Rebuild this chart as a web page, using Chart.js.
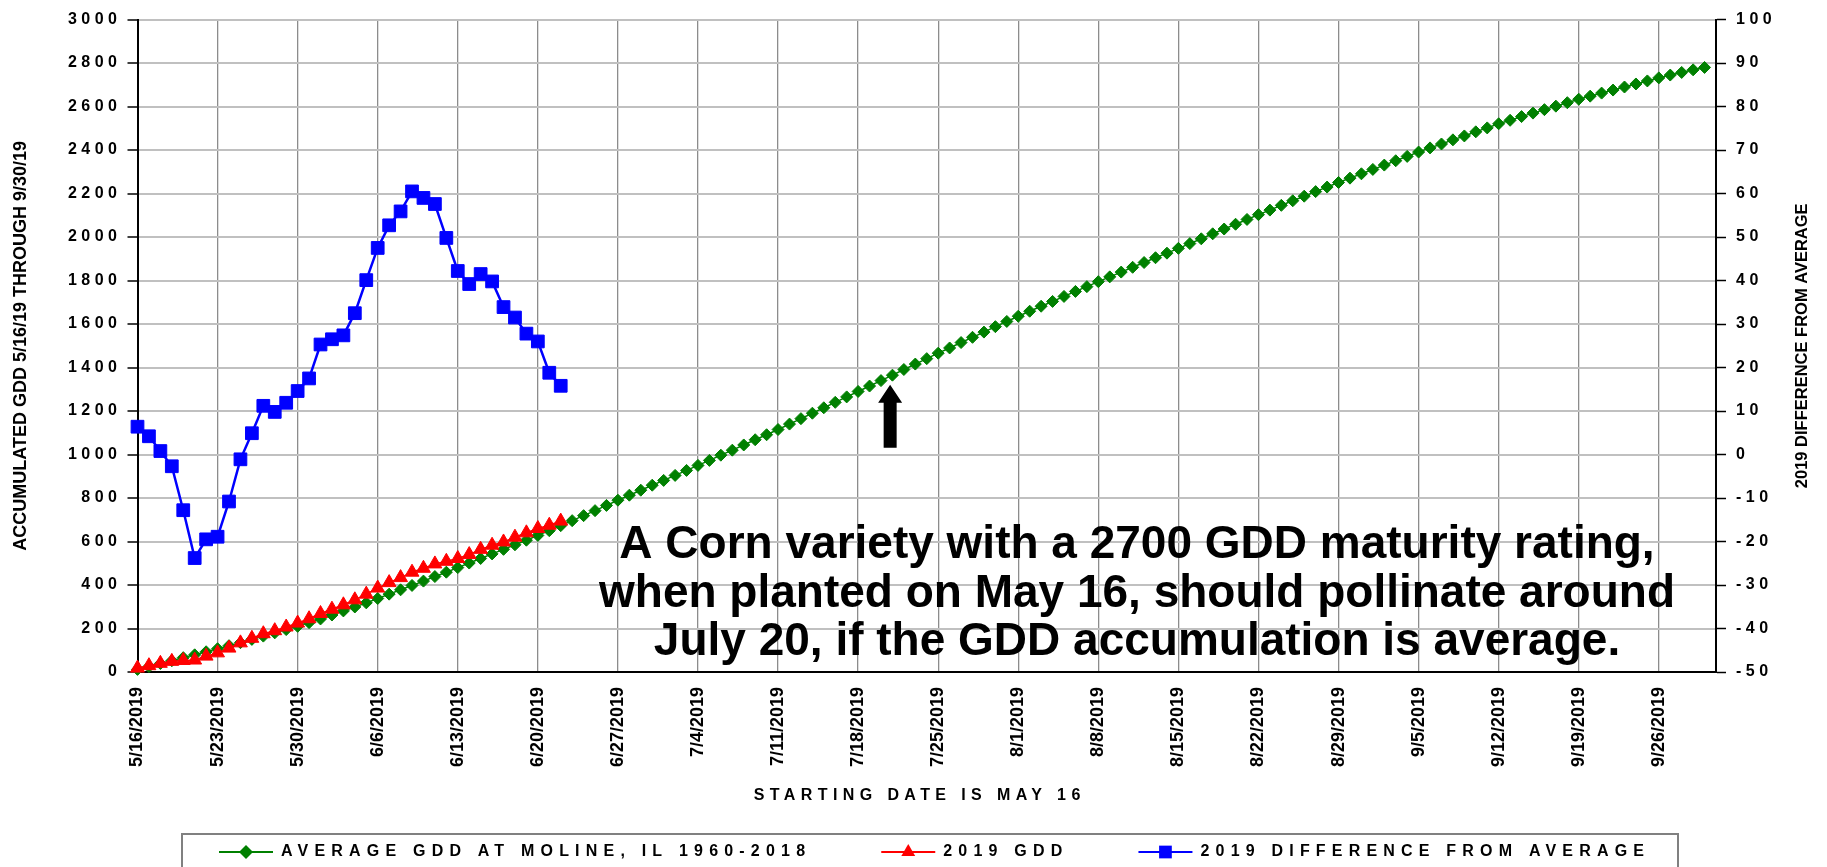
<!DOCTYPE html>
<html>
<head>
<meta charset="utf-8">
<title>GDD Moline 2019</title>
<script src="https://cdn.jsdelivr.net/npm/chart.js@4.4.1/dist/chart.umd.min.js"></script>
<style>
  html, body { margin: 0; padding: 0; background: #fff; }
  #wrap { position: relative; width: 1827px; height: 867px; }
</style>
</head>
<body>
<div id="wrap"><canvas id="gddChart"></canvas></div>
<script>
(function () {
  "use strict";

  // one label a week, day 0 = 5/16/2019
  var weekLabels = ["5/16/2019", "5/23/2019", "5/30/2019", "6/6/2019", "6/13/2019", "6/20/2019",
    "6/27/2019", "7/4/2019", "7/11/2019", "7/18/2019", "7/25/2019", "8/1/2019", "8/8/2019",
    "8/15/2019", "8/22/2019", "8/29/2019", "9/5/2019", "9/12/2019", "9/19/2019", "9/26/2019"];

  // average GDD at Moline 1960-2018, daily 5/16 .. 9/30
  var avgGdd = [
    12, 25, 39, 52, 66, 79, 93, 107,
    121, 135, 150, 165, 180, 195, 210,
    227, 244, 262, 281, 299, 318, 338,
    358, 378, 398, 418, 439, 459, 480,
    501, 522, 543, 564, 585, 606, 628,
    650, 673, 696, 719, 742, 766, 790,
    813, 836, 859, 881, 904, 927, 950,
    973, 997, 1020, 1044, 1068, 1091, 1115,
    1140, 1165, 1190, 1215, 1240, 1265, 1290,
    1315, 1340, 1365, 1391, 1416, 1441, 1466,
    1490, 1515, 1539, 1563, 1588, 1612, 1636,
    1659, 1682, 1704, 1727, 1750, 1772, 1795,
    1817, 1839, 1861, 1883, 1905, 1926, 1948,
    1970, 1992, 2015, 2037, 2059, 2081, 2103,
    2124, 2146, 2167, 2188, 2209, 2230, 2251,
    2271, 2291, 2311, 2331, 2351, 2371, 2391,
    2410, 2428, 2447, 2465, 2484, 2502, 2521,
    2537, 2554, 2570, 2586, 2602, 2618, 2634,
    2648, 2662, 2676, 2690, 2704, 2718, 2732,
    2745, 2757, 2769, 2780
  ];

  // 2019 GDD, 5/16 .. 6/22
  var gdd2019 = [
    18, 29, 40, 49, 53, 55, 73, 88, 110, 134,
    155, 176, 190, 207, 225, 245, 269, 289, 309, 332,
    358, 386, 411, 434, 459, 477, 497, 509, 522, 540,
    564, 583, 598, 620, 640, 660, 675, 694
  ];

  // 2019 difference from average (right axis), 5/16 .. 6/22
  var diff2019 = [
    6.4, 4.2, 0.8, -2.7, -12.8, -23.8, -19.5, -18.9, -10.8, -1.1,
    4.9, 11.2, 9.8, 11.9, 14.6, 17.5, 25.3, 26.5, 27.4, 32.5,
    40.1, 47.5, 52.7, 55.9, 60.5, 59.0, 57.6, 49.8, 42.2, 39.2,
    41.5, 39.8, 33.9, 31.5, 27.8, 26.0, 18.8, 15.8
  ];

  var noteLines = [
    "A Corn variety with a 2700 GDD maturity rating,",
    "when planted on May 16, should pollinate around",
    "July 20, if the GDD accumulation is average."
  ];

  // arrow under the average line, in axis units (day, left-axis GDD)
  var arrowAt = { day: 65.8, tip: 1321, base: 1031 };

  var FONT = "'Liberation Sans', Arial, sans-serif";

  Chart.defaults.font.family = FONT;
  Chart.defaults.color = "#000";

  function points(arr) {
    return arr.map(function (v, i) { return { x: i, y: v }; });
  }

  function marker(ctx, style, x, y, r) {
    ctx.beginPath();
    if (style === "rectRot") {
      ctx.moveTo(x, y - r); ctx.lineTo(x + r, y); ctx.lineTo(x, y + r); ctx.lineTo(x - r, y);
    } else if (style === "triangle") {
      ctx.moveTo(x, y - r);
      ctx.lineTo(x + r * 0.866, y + r * 0.5);
      ctx.lineTo(x - r * 0.866, y + r * 0.5);
    } else {
      var h = r * Math.SQRT1_2;
      ctx.rect(x - h, y - h, 2 * h, 2 * h);
    }
    ctx.closePath();
    ctx.fill();
  }

  var legendItems = [
    { text: "AVERAGE GDD AT MOLINE, IL 1960-2018", color: "#008000", style: "rectRot", r: 7 },
    { text: "2019 GDD", color: "#ff0000", style: "triangle", r: 8 },
    { text: "2019 DIFFERENCE FROM AVERAGE", color: "#0000ff", style: "rect", r: 9 }
  ];

  var overlay = {
    id: "overlay",
    afterLayout: function (chart) {
      // Excel-style spaced digits on both value axes
      ["y", "y2"].forEach(function (id) {
        var s = chart.scales[id];
        if (!s || s._spaced) return;
        var orig = s.drawLabels;
        s.drawLabels = function (area) {
          var c = this.ctx;
          c.save();
          c.letterSpacing = "4.5px";
          orig.call(this, area);
          c.restore();
        };
        s._spaced = true;
      });
    },
    afterDraw: function (chart) {
      var ctx = chart.ctx;
      var area = chart.chartArea;
      var xs = chart.scales.x;
      var ys = chart.scales.y;

      ctx.save();

      // arrow
      var ax = xs.getPixelForValue(arrowAt.day);
      var top = ys.getPixelForValue(arrowAt.tip);
      var bot = ys.getPixelForValue(arrowAt.base);
      ctx.fillStyle = "#000";
      ctx.beginPath();
      ctx.moveTo(ax, top);
      ctx.lineTo(ax + 12, top + 18);
      ctx.lineTo(ax + 6.5, top + 18);
      ctx.lineTo(ax + 6.5, bot);
      ctx.lineTo(ax - 6.5, bot);
      ctx.lineTo(ax - 6.5, top + 18);
      ctx.lineTo(ax - 12, top + 18);
      ctx.closePath();
      ctx.fill();

      // note
      ctx.font = "bold 46px " + FONT;
      ctx.textAlign = "center";
      ctx.textBaseline = "alphabetic";
      noteLines.forEach(function (t, i) {
        ctx.fillText(t, 1137, 558 + i * 48.5);
      });

      // right axis title, read bottom to top like the left one
      ctx.save();
      ctx.translate(1802, (area.top + area.bottom) / 2);
      ctx.rotate(-Math.PI / 2);
      ctx.font = "bold 16.5px " + FONT;
      ctx.textBaseline = "middle";
      ctx.fillText("2019 DIFFERENCE FROM AVERAGE", 0, 0);
      ctx.restore();

      // x axis title
      ctx.letterSpacing = "5.4px";
      ctx.font = "bold 16px " + FONT;
      ctx.textBaseline = "middle";
      ctx.fillText("STARTING DATE IS MAY 16", (area.left + area.right) / 2 - 7, 796);

      // legend
      ctx.letterSpacing = "0px";
      ctx.strokeStyle = "#808080";
      ctx.lineWidth = 2;
      ctx.strokeRect(182, 834, 1496, 60);

      var lx = 219, ly = 852;
      legendItems.forEach(function (it) {
        ctx.strokeStyle = it.color;
        ctx.fillStyle = it.color;
        ctx.lineWidth = 2;
        ctx.beginPath();
        ctx.moveTo(lx, ly);
        ctx.lineTo(lx + 54, ly);
        ctx.stroke();
        marker(ctx, it.style, lx + 27, ly, it.r);

        ctx.letterSpacing = "6.2px";
        ctx.font = "bold 16px " + FONT;
        ctx.textAlign = "left";
        ctx.fillStyle = "#000";
        ctx.fillText(it.text, lx + 62, ly);
        var w = ctx.measureText(it.text).width;
        ctx.letterSpacing = "0px";
        lx += 62 + w + 70;
      });

      ctx.restore();
    }
  };

  var el = document.getElementById("gddChart");
  new Chart(el, {
    type: "line",
    data: {
      datasets: [
        {
          label: "AVERAGE GDD AT MOLINE, IL 1960-2018",
          data: points(avgGdd),
          yAxisID: "y",
          borderColor: "#008000",
          backgroundColor: "#008000",
          borderWidth: 1.5,
          pointStyle: "rectRot",
          pointRadius: 6,
          pointBorderWidth: 1,
          order: 3,
          clip: false
        },
        {
          label: "2019 GDD",
          data: points(gdd2019),
          yAxisID: "y",
          borderColor: "#ff0000",
          backgroundColor: "#ff0000",
          borderWidth: 1.5,
          pointStyle: "triangle",
          pointRadius: 8,
          pointBorderWidth: 1,
          order: 2,
          clip: false
        },
        {
          label: "2019 DIFFERENCE FROM AVERAGE",
          data: points(diff2019),
          yAxisID: "y2",
          borderColor: "#0000ff",
          backgroundColor: "#0000ff",
          borderWidth: 2.5,
          pointStyle: "rect",
          pointRadius: 9,
          pointBorderWidth: 1,
          order: 1,
          clip: false
        }
      ]
    },
    options: {
      responsive: true,
      maintainAspectRatio: false,
      animation: false,
      layout: { padding: { top: 18, right: 0, bottom: 0, left: 0 } },
      plugins: {
        legend: { display: false },
        tooltip: { enabled: false }
      },
      scales: {
        x: {
          type: "linear",
          min: 0,
          max: 138,
          grid: { color: "#8c8c8c", lineWidth: 1.3, drawTicks: false },
          border: { color: "#000", width: 2 },
          ticks: {
            stepSize: 7,
            autoSkip: false,
            maxRotation: 90,
            minRotation: 90,
            padding: 15,
            font: { size: 18, weight: "bold" },
            callback: function (v) {
              return v % 7 === 0 ? weekLabels[v / 7] : null;
            }
          },
          afterFit: function (s) { s.height = 195; }
        },
        y: {
          position: "left",
          min: 0,
          max: 3000,
          grid: { color: "#c0c0c0", lineWidth: 2, tickLength: 10, tickColor: "#000", tickWidth: 1.5 },
          border: { color: "#000", width: 2 },
          ticks: {
            stepSize: 200,
            padding: 6,
            font: { size: 16, weight: "bold" },
            callback: function (v) { return String(v); }
          },
          title: {
            display: true,
            text: "ACCUMULATED GDD 5/16/19 THROUGH 9/30/19",
            font: { size: 18, weight: "bold" },
            padding: { top: 10, bottom: 0 }
          },
          afterFit: function (s) { s.width = 137.5; }
        },
        y2: {
          position: "right",
          min: -50,
          max: 100,
          grid: { drawOnChartArea: false, tickLength: 10, tickColor: "#000", tickWidth: 1.5 },
          border: { color: "#000", width: 2 },
          ticks: {
            stepSize: 10,
            padding: 10,
            font: { size: 16, weight: "bold" },
            callback: function (v) { return String(v); }
          },
          afterFit: function (s) { s.width = 111; }
        }
      }
    },
    plugins: [overlay]
  });
})();
</script>
</body>
</html>
